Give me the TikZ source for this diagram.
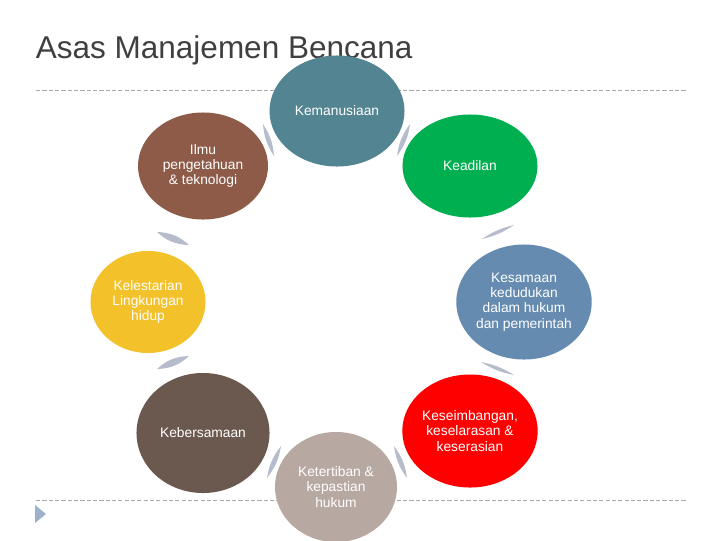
\documentclass[tikz,border=0pt]{standalone}
\usepackage{fontspec}
\setmainfont{Liberation Sans}
\usepackage{tikz}
\usetikzlibrary{shapes.geometric}
\definecolor{titlegrey}{HTML}{3F3F3F}
\definecolor{ruleline}{HTML}{A8A8A8}
\definecolor{cycgrey}{HTML}{B6BCCC}
\definecolor{bulletblue}{HTML}{9BB1CB}
\definecolor{humancol}{HTML}{538491}
\definecolor{sciencecol}{HTML}{8D5B48}
\definecolor{justicecol}{HTML}{00B050}
\definecolor{naturecol}{HTML}{F3C12A}
\definecolor{equalcol}{HTML}{658BB0}
\definecolor{togethercol}{HTML}{6B5950}
\definecolor{balancecol}{HTML}{FF0000}
\definecolor{ordercol}{HTML}{B8A8A2}

\begin{document}
\begin{tikzpicture}[
    x=0.025cm, y=-0.025cm,
    every node/.style={font=\fontsize{9.8}{10.8}\selectfont, align=center},
    asas/.style={ellipse, fill=#1, text=white, inner sep=0pt},
    rule/.style={draw=ruleline, line width=0.7pt, dash pattern=on 3pt off 1.5pt},
    cyc/.style={fill=cycgrey, draw=none}
]
    \useasboundingbox (0,0) rectangle (720,540);

    % Title and slide rules
    \node[anchor=base west, text=titlegrey, font=\fontsize{22.4}{26}\selectfont] (title) at (31,58) {Asas Manajemen Bencana};
    \draw[rule] (36,90) -- (686,90);
    \draw[rule] (36,500) -- (686,500);
    \fill[bulletblue] (35,505) -- (46,514) -- (35,523) -- cycle;

    % The eight principles
    \node[asas=humancol, minimum width=3.375cm, minimum height=2.775cm] (hum) at (337,111) {Kemanusiaan};
    \node[asas=justicecol, minimum width=3.375cm, minimum height=2.575cm] (adil) at (470,166) {Keadilan};
    \node[asas=equalcol, minimum width=3.3cm, minimum height=2.875cm] (sama) at (524,302) {Kesamaan\\kedudukan\\dalam hukum\\dan pemerintah};
    \node[asas=balancecol, minimum width=3.375cm, minimum height=2.825cm] (imbang) at (470,431) {Keseimbangan,\\keselarasan \&\\keserasian};
    \node[asas=ordercol, minimum width=3.05cm, minimum height=2.75cm] (tertib) at (336,487) {Ketertiban \&\\kepastian\\hukum};
    \node[asas=togethercol, minimum width=3.325cm, minimum height=3.0cm] (bersama) at (203,433) {Kebersamaan};
    \node[asas=naturecol, minimum width=2.875cm, minimum height=2.55cm] (lestari) at (148,302) {Kelestarian\\Lingkungan\\hidup};
    \node[asas=sciencecol, minimum width=3.25cm, minimum height=2.675cm] (ilmu) at (203,166) {Ilmu\\pengetahuan\\\& teknologi};

    % Little cycle arrows between the circles
    \coordinate (a0s) at (263,124); \coordinate (a0e) at (274,156);
    \coordinate (a1s) at (410,124); \coordinate (a1e) at (397,156);
    \coordinate (a2s) at (482,239); \coordinate (a2e) at (514,225);
    \coordinate (a3s) at (481,362); \coordinate (a3e) at (514,375);
    \coordinate (a4s) at (394,446); \coordinate (a4e) at (407,478);
    \coordinate (a5s) at (281,446); \coordinate (a5e) at (267,478);
    \coordinate (a6s) at (157,369); \coordinate (a6e) at (189,356);
    \coordinate (a7s) at (157,232); \coordinate (a7e) at (189,245);

    \fill[cyc] (a0s) to[bend left=14] (a0e) to[bend left=14] (a0s);
    \fill[cyc] (a1s) to[bend left=14] (a1e) to[bend left=14] (a1s);
    \fill[cyc] (a2s) to[bend left=10] (a2e) to[bend left=10] (a2s);
    \fill[cyc] (a3s) to[bend left=10] (a3e) to[bend left=10] (a3s);
    \fill[cyc] (a4s) to[bend left=14] (a4e) to[bend left=14] (a4s);
    \fill[cyc] (a5s) to[bend left=14] (a5e) to[bend left=14] (a5s);
    \fill[cyc] (a6s) to[bend left=20] (a6e) to[bend left=20] (a6s);
    \fill[cyc] (a7s) to[bend left=20] (a7e) to[bend left=20] (a7s);
\end{tikzpicture}
\end{document}
